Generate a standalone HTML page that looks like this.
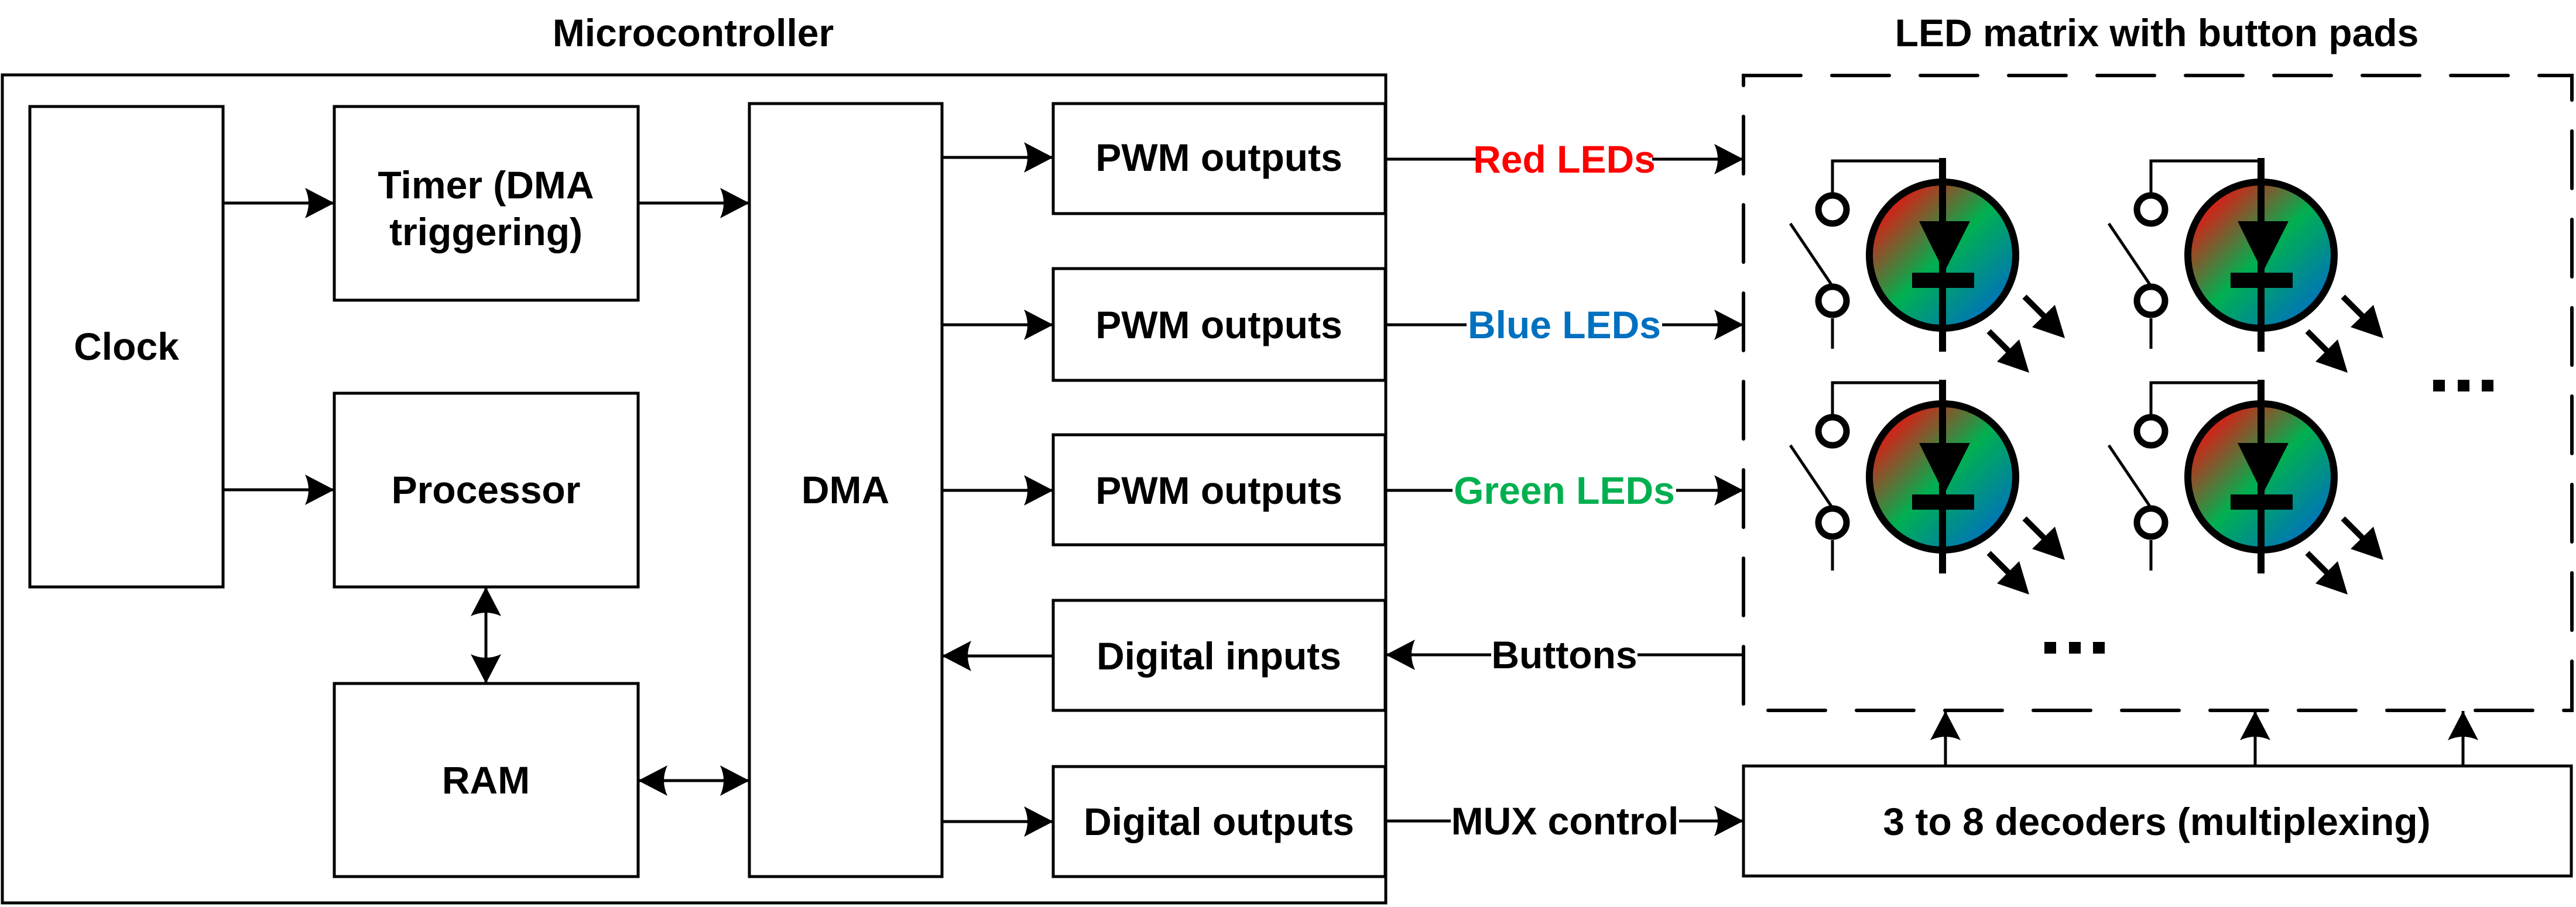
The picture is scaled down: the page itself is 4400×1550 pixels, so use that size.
<!DOCTYPE html>
<html><head><meta charset="utf-8"><style>
html,body{margin:0;padding:0;background:#fff;}
svg{display:block;}
text{font-family:"Liberation Sans",Arial,sans-serif;font-weight:bold;font-size:66px;text-anchor:middle;dominant-baseline:central;}
</style></head><body>
<svg width="4400" height="1550" viewBox="0 0 4400 1550" xmlns="http://www.w3.org/2000/svg">
<defs>
<marker id="ah" markerUnits="userSpaceOnUse" markerWidth="52" markerHeight="54" refX="50" refY="26" orient="auto-start-reverse" viewBox="0 0 52 54">
<path d="M0,0 L50,26 L0,52 Q12,26 0,0 Z" fill="#000"/>
</marker>
<linearGradient id="g" x1="0" y1="0" x2="1" y2="1">
<stop offset="0.12" stop-color="#ee1010"/>
<stop offset="0.5" stop-color="#00b050"/>
<stop offset="0.88" stop-color="#0070c0"/>
</linearGradient>
<g id="led">
<polyline points="-188,-83 -188,-161 0,-161" fill="none" stroke="#000" stroke-width="5"/>
<circle cx="0" cy="0" r="125" fill="url(#g)" stroke="#000" stroke-width="12"/>
<rect x="-6" y="-166" width="12" height="331" fill="#000"/>
<polygon points="-40,-58 47,-58 3,29" fill="#000"/>
<rect x="-52" y="30" width="106" height="26" fill="#000"/>
<circle cx="-188" cy="-78" r="24" fill="#fff" stroke="#000" stroke-width="11"/>
<circle cx="-188" cy="78" r="24" fill="#fff" stroke="#000" stroke-width="11"/>
<line x1="-188" y1="108" x2="-188" y2="160" stroke="#000" stroke-width="5"/>
<line x1="-260" y1="-54" x2="-190" y2="50" stroke="#000" stroke-width="5"/>
<line x1="140" y1="71" x2="180" y2="111" stroke="#000" stroke-width="10"/>
<polygon points="153,123 192,85 209,142" fill="#000"/>
<line x1="79" y1="130" x2="119" y2="170" stroke="#000" stroke-width="10"/>
<polygon points="93,182 131,144 148,201" fill="#000"/>
</g>
</defs>

<text x="1184" y="56">Microcontroller</text>
<text x="3684" y="56">LED matrix with button pads</text>

<g fill="none" stroke="#000" stroke-width="5">
<rect x="4" y="128" width="2363" height="1415"/>
<rect x="51" y="182" width="330" height="821"/>
<rect x="571" y="182" width="519" height="331"/>
<rect x="571" y="672" width="519" height="331"/>
<rect x="571" y="1168" width="519" height="330"/>
<rect x="1280" y="177" width="329" height="1321"/>
<rect x="1799" y="177" width="567" height="188"/>
<rect x="1799" y="459" width="567" height="191"/>
<rect x="1799" y="743" width="567" height="188"/>
<rect x="1799" y="1026" width="567" height="188"/>
<rect x="1799" y="1310" width="567" height="188"/>
<rect x="2978" y="1309" width="1414" height="188"/>
<path d="M2978,129 H4393 V1214 H2978 Z" stroke-width="6" stroke-dasharray="98 53" stroke-linecap="round"/>
</g>

<text x="216" y="592">Clock</text>
<text x="830" y="316">Timer (DMA</text>
<text x="830" y="396">triggering)</text>
<text x="830" y="837">Processor</text>
<text x="830" y="1333">RAM</text>
<text x="1444" y="837">DMA</text>
<text x="2082" y="269">PWM outputs</text>
<text x="2082" y="555">PWM outputs</text>
<text x="2082" y="838">PWM outputs</text>
<text x="2082" y="1121">Digital inputs</text>
<text x="2082" y="1404">Digital outputs</text>
<text x="3684" y="1404">3 to 8 decoders (multiplexing)</text>

<g stroke="#000" stroke-width="5" fill="none" marker-end="url(#ah)">
<line x1="381" y1="347" x2="571" y2="347"/>
<line x1="381" y1="837" x2="571" y2="837"/>
<line x1="1090" y1="347" x2="1280" y2="347"/>
<line x1="1609" y1="269" x2="1799" y2="269"/>
<line x1="1609" y1="555" x2="1799" y2="555"/>
<line x1="1609" y1="838" x2="1799" y2="838"/>
<line x1="1799" y1="1121" x2="1609" y2="1121"/>
<line x1="1609" y1="1404" x2="1799" y2="1404"/>
<line x1="830" y1="1003" x2="830" y2="1168" marker-start="url(#ah)"/>
<line x1="1090" y1="1334" x2="1280" y2="1334" marker-start="url(#ah)"/>
<line x1="2367" y1="272" x2="2978" y2="272"/>
<line x1="2367" y1="555" x2="2978" y2="555"/>
<line x1="2367" y1="838" x2="2978" y2="838"/>
<line x1="2978" y1="1119" x2="2367" y2="1119"/>
<line x1="2367" y1="1403" x2="2978" y2="1403"/>
<line x1="3323" y1="1309" x2="3323" y2="1215"/>
<line x1="3852" y1="1309" x2="3852" y2="1215"/>
<line x1="4207" y1="1309" x2="4207" y2="1215"/>
</g>

<g>
<rect x="2522" y="235" width="300" height="74" fill="#fff"/>
<text x="2672" y="272" fill="#ff0000">Red LEDs</text>
<rect x="2505" y="518" width="334" height="74" fill="#fff"/>
<text x="2672" y="555" fill="#0070c0">Blue LEDs</text>
<rect x="2481" y="801" width="382" height="74" fill="#fff"/>
<text x="2672" y="838" fill="#00b050">Green LEDs</text>
<rect x="2547" y="1082" width="250" height="74" fill="#fff"/>
<text x="2672" y="1119">Buttons</text>
<rect x="2478" y="1366" width="390" height="74" fill="#fff"/>
<text x="2673" y="1403">MUX control</text>
</g>

<use href="#led" x="3318" y="436"/>
<use href="#led" x="3862" y="436"/>
<use href="#led" x="3318" y="815"/>
<use href="#led" x="3862" y="815"/>

<g fill="#000">
<rect x="4156" y="649" width="20" height="20"/>
<rect x="4198" y="649" width="20" height="20"/>
<rect x="4239" y="649" width="20" height="20"/>
<rect x="3492" y="1097" width="20" height="20"/>
<rect x="3534" y="1097" width="20" height="20"/>
<rect x="3575" y="1097" width="20" height="20"/>
</g>
</svg>
</body></html>
